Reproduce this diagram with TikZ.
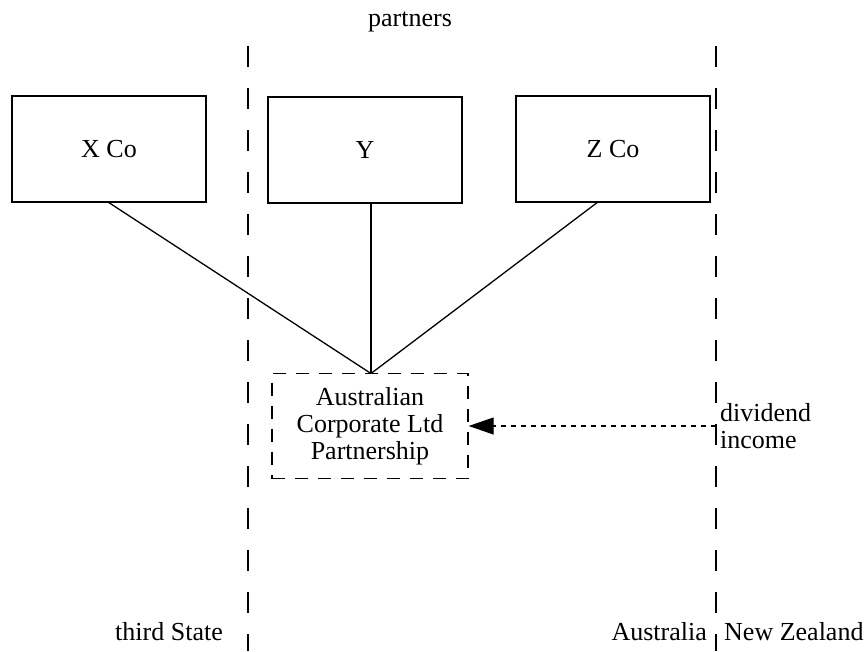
\documentclass[tikz,border=0pt]{standalone}
\usepackage{fontspec}
\setmainfont{Liberation Serif}
\usetikzlibrary{arrows.meta,calc}
\begin{document}
\begin{tikzpicture}[x=1pt,y=-1pt,
  every node/.style={font=\fontsize{26}{27}\selectfont},
  entity/.style={draw,line width=1.4pt,minimum width=194pt,minimum height=106pt,inner sep=0pt},
  lpbox/.style={draw,line width=1.4pt,dash pattern=on 13pt off 10pt,minimum width=196pt,minimum height=105pt,align=center,inner sep=0pt},
  border/.style={line width=1.4pt,dash pattern=on 21pt off 21pt},
  link/.style={line width=1.3pt},
  flow/.style={line width=1.2pt,dash pattern=on 5pt off 5pt,-{Triangle[length=25pt,width=17pt]}},
  caption/.style={inner sep=0pt}]
  \useasboundingbox (0,0) rectangle (868,651);

  % jurisdiction borders
  \coordinate (lt) at (248,46);
  \coordinate (lb) at (248,651);
  \coordinate (rt) at (716,46);
  \coordinate (rb) at (716,651);
  \draw[border] (lt) -- (lb);
  \draw[border] (rt) -- (rb);

  % partners
  \node[entity] (xco) at (109,149) {X Co};
  \node[entity] (y) at (365,150) {Y};
  \node[entity] (zco) at (613,149) {Z Co};

  % partnership
  \node[lpbox] (lp) at (370,426) {Australian\\Corporate Ltd\\Partnership};
  \coordinate (meet) at (371,373.5);

  \draw[link] (xco.south) -- (meet);
  \draw[link] (y.south -| meet) -- (meet);
  \draw[link] ([xshift=-16pt]zco.south) -- (meet);

  % dividend flow from New Zealand
  \coordinate (src) at (716,426);
  \draw[flow] (src) -- (lp.east);

  % labels
  \node[caption] (ptn) at (410,22) {partners};
  \node[caption,anchor=west,align=left] (div) at (720,426) {dividend\\income};
  \node[caption] (third) at (169,632) {third State};
  \node[caption,anchor=east] (aus) at (707,632) {Australia};
  \node[caption,anchor=west] (nz) at (724,632) {New Zealand};
\end{tikzpicture}
\end{document}
